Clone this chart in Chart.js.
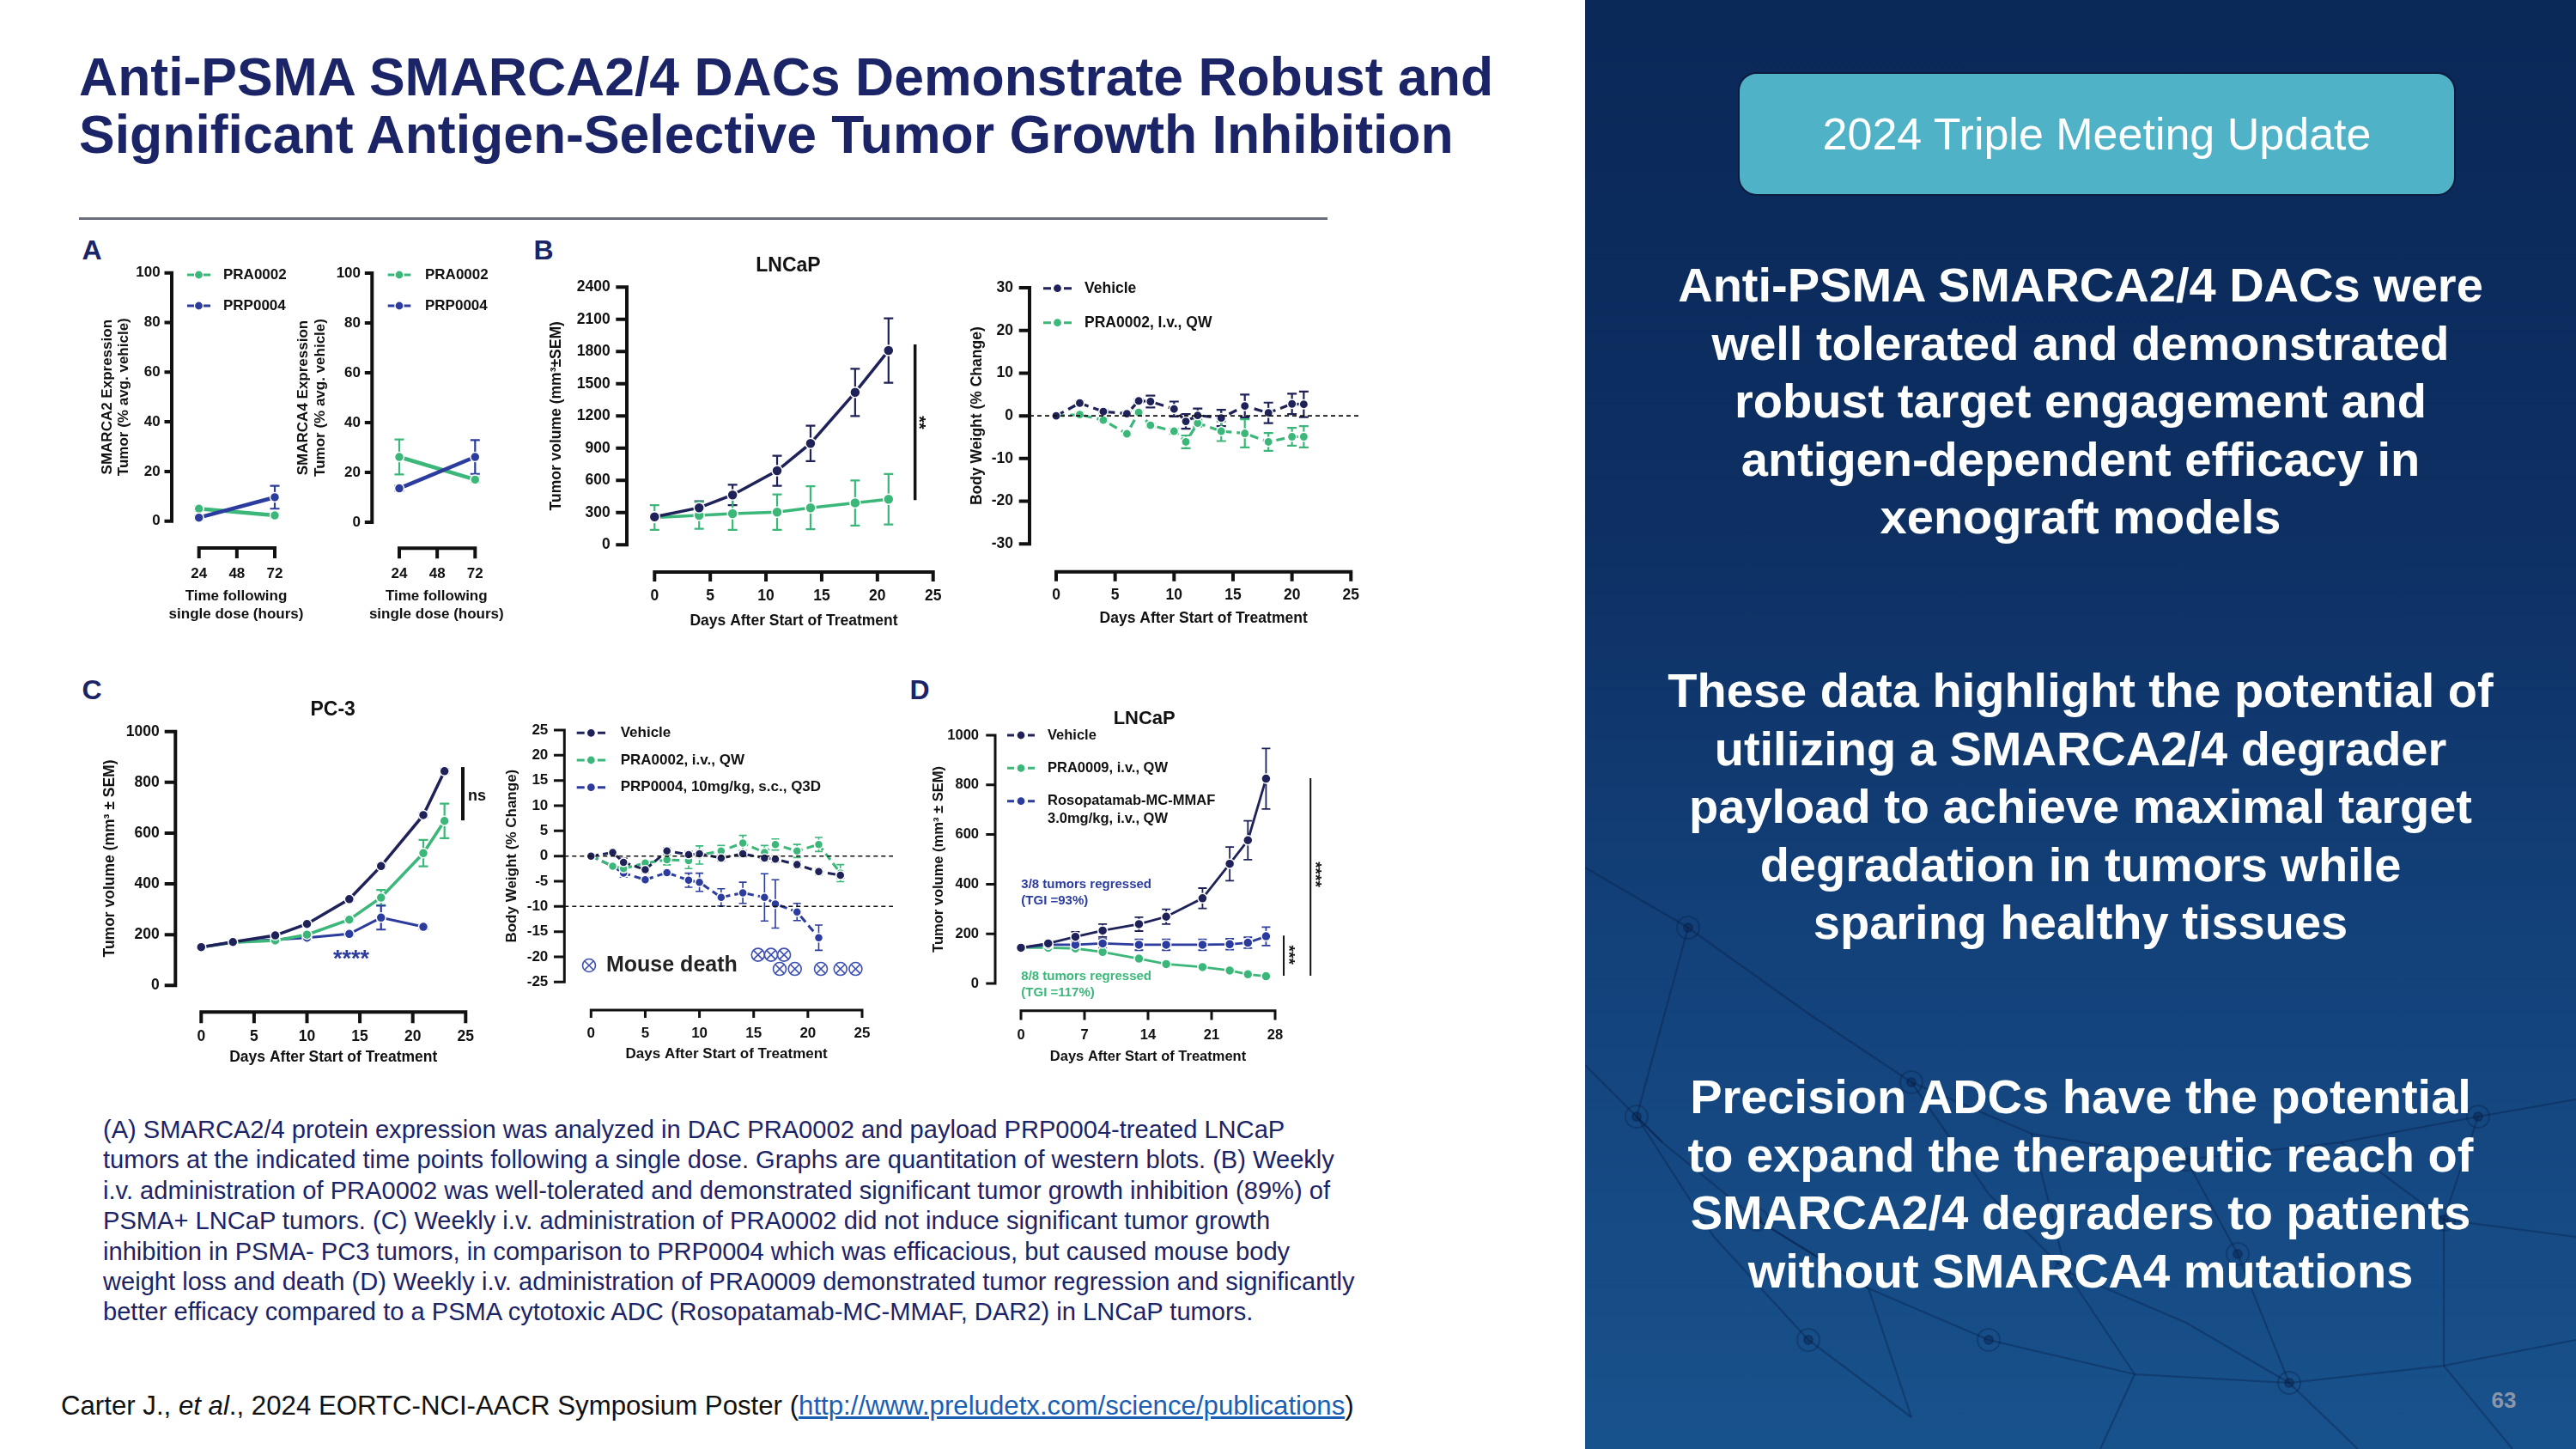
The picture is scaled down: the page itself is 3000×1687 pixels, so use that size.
<!DOCTYPE html>
<html><head><meta charset="utf-8"><title>Anti-PSMA SMARCA2/4 DACs</title>
<script src="https://cdn.jsdelivr.net/npm/chart.js@4.4.1/dist/chart.umd.min.js"></script>
<style>
html,body{margin:0;padding:0;background:#fff;overflow:hidden}
#stage{position:relative;width:3000px;height:1687px;overflow:hidden;background:#fff;font-family:"Liberation Sans",Arial,Helvetica,sans-serif}
.abs{position:absolute;white-space:nowrap}
.ctr{position:absolute;white-space:nowrap;transform:translate(-50%,-50%)}
canvas{position:absolute}
#title{left:92px;top:56px;font-size:62.5px;font-weight:bold;line-height:67px;color:#1b2466}
#rule{left:92px;top:253px;width:1454px;height:3px;background:#6a6d7c}
.plab{font-size:32px;font-weight:bold;color:#1b2466;line-height:1}
#caption{left:120px;top:1298px;font-size:29.1px;line-height:35.4px;color:#1b2466}
#cite{left:71px;top:1619px;font-size:31.2px;line-height:36px;color:#111}
#cite a{color:#1a5fb4;text-decoration:underline}
#side{left:1846px;top:0;width:1154px;height:1687px;background:linear-gradient(180deg,#0a2858 0%,#0d2f62 35%,#13417a 65%,#18528c 100%)}
#btn{left:2024px;top:84px;width:836px;height:144px;box-sizing:border-box;border:2px solid #0c1b3d;border-radius:22px;background:#4fb2c6;color:#fff;font-size:52px;line-height:140px;text-align:center}
.para{position:absolute;left:1846px;width:1154px;text-align:center;color:#fff;font-size:56px;font-weight:bold;line-height:67.5px}
#pg{left:2916px;top:1630px;font-size:26px;font-weight:bold;color:#8c96aa}
</style></head>
<body><div id="stage">
<div id="title" class="abs">Anti-PSMA SMARCA2/4 DACs Demonstrate Robust and<br>Significant Antigen-Selective Tumor Growth Inhibition</div>
<div id="rule" class="abs"></div>
<div class="ctr plab" style="left:107px;top:291px">A</div>
<div class="ctr plab" style="left:633px;top:291px">B</div>
<div class="ctr plab" style="left:107px;top:803px">C</div>
<div class="ctr plab" style="left:1071px;top:803px">D</div>
<div id="caption" class="abs">(A) SMARCA2/4 protein expression was analyzed in DAC PRA0002 and payload PRP0004-treated LNCaP<br>tumors at the indicated time points following a single dose. Graphs are quantitation of western blots. (B) Weekly<br>i.v. administration of PRA0002 was well-tolerated and demonstrated significant tumor growth inhibition (89%) of<br>PSMA+ LNCaP tumors. (C) Weekly i.v. administration of PRA0002 did not induce significant tumor growth<br>inhibition in PSMA- PC3 tumors, in comparison to PRP0004 which was efficacious, but caused mouse body<br>weight loss and death (D) Weekly i.v. administration of PRA0009 demonstrated tumor regression and significantly<br>better efficacy compared to a PSMA cytotoxic ADC (Rosopatamab-MC-MMAF, DAR2) in LNCaP tumors.</div>
<div id="cite" class="abs">Carter J., <i>et al</i>., 2024 EORTC-NCI-AACR Symposium Poster (<a>http://www.preludetx.com/science/publications</a>)</div>
<div id="side" class="abs">
<svg width="1154" height="1687" style="position:absolute;left:0;top:0" fill="none" stroke="rgba(6,26,64,0.35)" stroke-width="2.2">
<polyline points="0,1010 120,1080 260,1180 380,1260 520,1320 700,1350 880,1330 1040,1300 1154,1280"/>
<polyline points="0,1240 90,1330 200,1420 330,1500 470,1560 640,1600 820,1610 1000,1590 1154,1560"/>
<polyline points="60,1300 150,1440 260,1560 380,1650"/>
<polyline points="380,1260 470,1390 560,1480 700,1540 820,1610"/>
<polyline points="700,1350 760,1460 820,1610 900,1687"/>
<polyline points="1040,1300 1000,1420 1000,1590 1080,1687"/>
<polyline points="520,1320 560,1480 640,1600 600,1687"/>
<polyline points="120,1080 60,1300 90,1330"/>
<polyline points="200,1420 330,1500 380,1650"/>
<polyline points="880,1330 1000,1420 1154,1440"/>
<g fill="rgba(6,26,64,0.35)" stroke="rgba(6,26,64,0.35)">
<circle cx="120" cy="1080" r="5"/><circle cx="380" cy="1260" r="5"/><circle cx="700" cy="1350" r="5"/><circle cx="1040" cy="1300" r="5"/>
<circle cx="200" cy="1420" r="5"/><circle cx="470" cy="1560" r="5"/><circle cx="820" cy="1610" r="5"/><circle cx="1000" cy="1420" r="5"/>
<circle cx="560" cy="1480" r="5"/><circle cx="60" cy="1300" r="5"/><circle cx="260" cy="1560" r="5"/><circle cx="760" cy="1460" r="5"/>
</g>
<g fill="none" stroke="rgba(6,26,64,0.3)" stroke-width="2">
<circle cx="120" cy="1080" r="13"/><circle cx="380" cy="1260" r="13"/><circle cx="700" cy="1350" r="13"/><circle cx="1040" cy="1300" r="13"/>
<circle cx="200" cy="1420" r="13"/><circle cx="470" cy="1560" r="13"/><circle cx="820" cy="1610" r="13"/><circle cx="1000" cy="1420" r="13"/>
<circle cx="560" cy="1480" r="13"/><circle cx="60" cy="1300" r="13"/><circle cx="260" cy="1560" r="13"/><circle cx="760" cy="1460" r="13"/>
</g></svg>
</div>
<div id="btn" class="abs">2024 Triple Meeting Update</div>
<div class="para" style="top:298px">Anti-PSMA SMARCA2/4 DACs were<br>well tolerated and demonstrated<br>robust target engagement and<br>antigen-dependent efficacy in<br>xenograft models</div>
<div class="para" style="top:770px">These data highlight the potential of<br>utilizing a SMARCA2/4 degrader<br>payload to achieve maximal target<br>degradation in tumors while<br>sparing healthy tissues</div>
<div class="para" style="top:1243px">Precision ADCs have the potential<br>to expand the therapeutic reach of<br>SMARCA2/4 degraders to patients<br>without SMARCA4 mutations</div>
<div id="pg" class="ctr">63</div>
</div>
<script>
// ================= DATA =================
// Panel A: SMARCA2 / SMARCA4 expression (% avg. vehicle)
const timeA = [24, 72];
const smarca2_PRA0002 = [5.0, 2.3];
const smarca2_PRA0002_sem = [0.8, 0.8];
const smarca2_PRP0004 = [1.4, 9.6];
const smarca2_PRP0004_sem = [0.6, 4.6];
const smarca4_PRA0002 = [26.2, 17.1];
const smarca4_PRA0002_sem = [7.0, 1.0];
const smarca4_PRP0004 = [13.6, 26.2];
const smarca4_PRP0004_sem = [1.0, 6.8];
const ticksA_x = [24, 48, 72];
const ticksA_y = [0, 20, 40, 60, 80, 100];

// Panel B: LNCaP tumor volume
const daysLNCaP = [0, 4, 7, 11, 14, 18, 21];
const lncapVehicle = [260, 345, 465, 690, 945, 1420, 1810];
const lncapVehicle_sem = [20, 60, 95, 140, 165, 220, 300];
const lncapPRA0002 = [255, 275, 290, 305, 345, 390, 425];
const lncapPRA0002_sem = [115, 125, 150, 165, 200, 210, 235];
const ticksLNCaP_y = [0, 300, 600, 900, 1200, 1500, 1800, 2100, 2400];
const ticksDays25 = [0, 5, 10, 15, 20, 25];

// Panel B: body weight
const daysBW_B = [0, 2, 4, 6, 7, 8, 10, 11, 12, 14, 16, 18, 20, 21];
const bwB_Vehicle = [0, 3.0, 1.0, 0.5, 3.5, 3.35, 1.6, -1.3, 0.1, -0.5, 2.3, 0.7, 2.8, 2.7];
const bwB_Vehicle_sem = [0, 0.4, 0.4, 0.4, 0.4, 1.4, 1.75, 1.7, 1.6, 1.9, 2.7, 2.4, 2.4, 3.0];
const bwB_PRA0002 = [0, 0.3, -1.0, -4.2, 0.8, -2.2, -3.6, -6.1, -1.7, -3.6, -4.1, -6.1, -4.9, -4.9];
const bwB_PRA0002_sem = [0, 0.4, 0.4, 0.4, 0.4, 0.4, 0.6, 1.5, 0.8, 2.3, 3.3, 2.1, 2.1, 2.5];
const ticksBW_B_y = [-30, -20, -10, 0, 10, 20, 30];

// Panel C: PC-3 tumor volume
const daysPC3 = [0, 3, 7, 10, 14, 17, 21, 23];
const pc3Vehicle = [151, 171, 197, 242, 340, 470, 671, 844];
const pc3Vehicle_sem = [4, 4, 4, 5, 6, 8, 8, 8];
const pc3PRA0002 = [151, 169, 177, 200, 259, 346, 521, 648];
const pc3PRA0002_sem = [4, 4, 5, 8, 10, 30, 52, 68];
const daysPC3_PRP = [0, 3, 7, 10, 14, 17, 21];
const pc3PRP0004 = [151, 171, 180, 188, 203, 267, 231];
const pc3PRP0004_sem = [4, 4, 5, 8, 8, 47, 8];
const ticksPC3_y = [0, 200, 400, 600, 800, 1000];

// Panel C: body weight
const daysBW_C = [0, 2, 3, 5, 7, 9, 10, 12, 14, 16, 17, 19, 21, 23];
const bwC_Vehicle = [0, 0.7, -1.25, -2.7, 1.0, 0.3, 0.45, -0.4, 0.45, -0.4, -0.6, -1.7, -3.1, -3.8];
const bwC_Vehicle_sem = [0, 0.5, 0.8, 0.6, 0.6, 0.6, 0.6, 0.6, 0.6, 0.6, 0.6, 0.6, 0.6, 0.6];
const bwC_PRA0002 = [0, -2.0, -2.5, -1.4, -0.75, -0.9, 0.2, 1.0, 2.6, 0.7, 2.3, 1.0, 2.3, -3.4];
const bwC_PRA0002_sem = [0, 0.5, 1.2, 0.5, 1.0, 1.6, 1.8, 1.1, 1.5, 1.4, 1.1, 1.3, 1.4, 1.7];
const daysBW_C_PRP = [0, 2, 3, 5, 7, 9, 10, 12, 14, 16, 17, 19, 21];
const bwC_PRP0004 = [0, -2.0, -3.4, -4.7, -3.3, -4.8, -5.2, -8.2, -7.3, -8.2, -9.5, -11.1, -16.2];
const bwC_PRP0004_sem = [0, 0.5, 0.8, 0.5, 0.5, 1.4, 1.8, 1.7, 2.1, 4.7, 4.8, 1.7, 2.5];
const mouseDeathDays = [15.4, 16.6, 17.8, 17.4, 18.8, 21.2, 23.0, 24.4];
const mouseDeathRow = [-19.6, -19.6, -19.6, -22.4, -22.4, -22.4, -22.4, -22.4];
const ticksBW_C_y = [-25, -20, -15, -10, -5, 0, 5, 10, 15, 20, 25];

// Panel D: LNCaP tumor volume
const daysD = [0, 3, 6, 9, 13, 16, 20, 23, 25, 27];
const dVehicle = [144, 161, 188, 213, 239, 269, 343, 482, 577, 825];
const dVehicle_sem = [5, 8, 20, 26, 28, 30, 41, 68, 78, 122];
const dPRA0009 = [144, 144, 141, 127, 100, 78, 66, 52, 37, 29];
const dPRA0009_sem = [4, 4, 4, 4, 4, 4, 4, 4, 4, 4];
const dRosopatamab = [144, 156, 156, 161, 156, 156, 156, 158, 164, 190];
const dRosopatamab_sem = [5, 10, 12, 18, 22, 22, 22, 22, 22, 37];
const ticksD_x = [0, 7, 14, 21, 28];
const ticksD_y = [0, 200, 400, 600, 800, 1000];

// ================= STYLE =================
const FONT = '"Liberation Sans", Arial, Helvetica, sans-serif';
const C_VEH = '#1f2259', C_GRN = '#3cb77a', C_BLU = '#2c3c9e', C_DEATH = '#3d4fb0';

function series(label, xs, ys, sem, color, o) {
  return Object.assign({
    label, data: xs.map((x, i) => ({x, y: ys[i]})), sem,
    borderColor: color, backgroundColor: color,
    pointBackgroundColor: color, pointBorderColor: '#fff', pointBorderWidth: 1.5,
    pointRadius: 5.5, borderWidth: 3.5, tension: 0, clip: false, showLine: true, fill: false
  }, o || {});
}

function drawErrorBars(chart) {
  const ctx = chart.ctx, ys = chart.scales.y;
  chart.data.datasets.forEach((ds, i) => {
    if (!ds.sem) return;
    const meta = chart.getDatasetMeta(i);
    ctx.save();
    ctx.strokeStyle = ds.borderColor; ctx.lineWidth = ds.errWidth || 2.2; ctx.setLineDash([]);
    ds.data.forEach((p, j) => {
      const e = ds.sem[j]; if (!e) return;
      const x = meta.data[j].x;
      const yt = ys.getPixelForValue(p.y + e), yb = ys.getPixelForValue(p.y - e);
      const cw = ds.capW || 5.5;
      ctx.beginPath();
      ctx.moveTo(x, yt); ctx.lineTo(x, yb);
      ctx.moveTo(x - cw, yt); ctx.lineTo(x + cw, yt);
      ctx.moveTo(x - cw, yb); ctx.lineTo(x + cw, yb);
      ctx.stroke();
    });
    ctx.restore();
  });
}

function drawAxes(chart, g) {
  const ctx = chart.ctx, xs = chart.scales.x, ys = chart.scales.y;
  const ax = xs.getPixelForValue(g.xmin) - (g.x0px - g.axisX);
  const ay = ys.getPixelForValue(g.ymin) + (g.axisY - g.yBot);
  const w = g.axisW;
  ctx.save(); ctx.strokeStyle = '#111'; ctx.lineWidth = w; ctx.lineCap = 'butt'; ctx.setLineDash([]);
  ctx.beginPath();
  const yA = ys.getPixelForValue(g.yticks[g.yticks.length - 1]), yB = ys.getPixelForValue(g.yticks[0]);
  ctx.moveTo(ax, yA - w / 2); ctx.lineTo(ax, yB + w / 2);
  g.yticks.forEach(v => { const y = ys.getPixelForValue(v); ctx.moveTo(ax, y); ctx.lineTo(ax - g.tlY, y); });
  const xA = xs.getPixelForValue(g.xticks[0]), xB = xs.getPixelForValue(g.xticks[g.xticks.length - 1]);
  ctx.moveTo(xA - w / 2, ay); ctx.lineTo(xB + w / 2, ay);
  g.xticks.forEach(v => { const x = xs.getPixelForValue(v); ctx.moveTo(x, ay); ctx.lineTo(x, ay + g.tlX); });
  ctx.stroke();
  ctx.restore();
}

function helpers(chart, off, g) {
  const ctx = chart.ctx, xs = chart.scales.x, ys = chart.scales.y;
  const X = v => xs.getPixelForValue(v), Y = v => ys.getPixelForValue(v);
  const axisXc = X(g.xmin) - (g.x0px - g.axisX);
  const h = {
    X, Y, ctx,
    text(str, x, y, o) {
      o = o || {};
      ctx.save();
      ctx.font = (o.weight || 'bold') + ' ' + (o.size || 17) + 'px ' + FONT;
      ctx.fillStyle = o.color || '#111';
      ctx.textAlign = o.align || 'center';
      ctx.textBaseline = o.star ? 'alphabetic' : 'middle';
      ctx.translate(x - off.left, y - off.top);
      if (o.rot) ctx.rotate(o.rot);
      ctx.fillText(str, 0, o.star ? 0.58 * (o.size || 17) : 0);
      ctx.restore();
    },
    sig(xv, y1, y2, w) {
      ctx.save(); ctx.strokeStyle = '#111'; ctx.lineWidth = w; ctx.setLineDash([]);
      ctx.beginPath(); ctx.moveTo(X(xv), Y(y1)); ctx.lineTo(X(xv), Y(y2)); ctx.stroke(); ctx.restore();
    },
    hline(yv, xEndPage, lw) {
      ctx.save(); ctx.strokeStyle = '#111'; ctx.lineWidth = lw || 1.6; ctx.setLineDash([5, 4]);
      ctx.beginPath(); ctx.moveTo(axisXc, Y(yv)); ctx.lineTo(xEndPage - off.left, Y(yv)); ctx.stroke(); ctx.restore();
    },
    marker(style, x, y, r, color, lw) {
      ctx.save();
      ctx.strokeStyle = color; ctx.fillStyle = 'rgba(0,0,0,0)'; ctx.lineWidth = lw;
      Chart.helpers.drawPoint(ctx, {pointStyle: style, radius: r, borderWidth: lw}, x - off.left, y - off.top);
      ctx.restore();
    },
    legend(L) {
      L.items.forEach(it => {
        const y = it.y - off.top, x0 = L.x0 - off.left, x1 = L.x1 - off.left, xm = (x0 + x1) / 2;
        ctx.save();
        ctx.strokeStyle = it.color; ctx.lineWidth = L.lw || 3; ctx.setLineDash([]);
        ctx.beginPath(); ctx.moveTo(x0, y); ctx.lineTo(x0 + L.dash, y); ctx.moveTo(x1 - L.dash, y); ctx.lineTo(x1, y); ctx.stroke();
        ctx.beginPath(); ctx.arc(xm, y, L.r, 0, Math.PI * 2); ctx.fillStyle = it.color; ctx.fill();
        ctx.lineWidth = 1.2; ctx.strokeStyle = '#fff'; ctx.stroke();
        ctx.restore();
        const lines = Array.isArray(it.text) ? it.text : [it.text];
        lines.forEach((t, k) => h.text(t, L.textX, it.y + k * (L.lineGap || 20), {size: L.size, align: 'left', weight: L.weight}));
      });
    }
  };
  return h;
}

function panel(g) {
  const lhY = g.yTitleLH, lhX = g.xTitleLH, lhTick = g.tickSize * 1.2;
  const yPad = g.x0px - g.yLabelRight;
  const xPad = g.xLabelY - g.yBot - lhTick / 2;
  // Chart.js reserves tick padding + half a label at the far ends of each scale
  const PT = Math.max(g.PT, yPad + lhTick / 2 + 4);
  const PR = Math.max(g.PR, xPad + g.tickSize * 1.3 + 4);
  const left = Math.round(g.yTitleX - lhY / 2);
  const top = Math.round(g.yTop - PT);
  const right = Math.round(g.x1px + PR);
  const bottom = Math.round(g.xTitleY + lhX / 2 + 2);
  const W = right - left, H = bottom - top;
  const YW = g.x0px - left, XH = bottom - g.yBot;
  const padTop = g.yTop - top, padRight = right - g.x1px;
  const cv = document.createElement('canvas');
  cv.width = W; cv.height = H;
  cv.style.left = left + 'px'; cv.style.top = top + 'px';
  cv.style.width = W + 'px'; cv.style.height = H + 'px';
  document.getElementById('stage').appendChild(cv);
  const tickFont = {family: FONT, size: g.tickSize, weight: 'bold', lineHeight: 1.2};
  const off = {left, top};
  new Chart(cv, {
    type: 'line',
    data: {datasets: g.datasets},
    options: {
      responsive: false, maintainAspectRatio: false, animation: false, devicePixelRatio: 1,
      layout: {padding: {top: padTop, right: padRight, left: 0, bottom: 0}},
      plugins: {legend: {display: false}, tooltip: {enabled: false}, title: {display: false}},
      scales: {
        x: {
          type: 'linear', position: 'bottom', min: g.xmin, max: g.xmax,
          afterBuildTicks: s => { s.ticks = g.xticks.map(v => ({value: v})); },
          afterFit: s => { s.height = XH; },
          grid: {display: false, drawTicks: false}, border: {display: false},
          ticks: {padding: xPad, font: tickFont, color: '#111', maxRotation: 0, minRotation: 0, autoSkip: false, callback: v => String(v)},
          title: {display: !g.xTitleManual, text: g.xTitle, color: '#111', padding: {top: 0, bottom: 2}, font: {family: FONT, size: g.titleSize, weight: 'bold', lineHeight: lhX / g.titleSize}}
        },
        y: {
          type: 'linear', position: 'left', min: g.ymin, max: g.ymax,
          afterBuildTicks: s => { s.ticks = g.yticks.map(v => ({value: v})); },
          afterFit: s => { s.width = YW; },
          grid: {display: false, drawTicks: false}, border: {display: false},
          ticks: {padding: yPad, font: tickFont, color: '#111', autoSkip: false, callback: v => String(v)},
          title: {display: true, text: g.yTitle, color: '#111', padding: {top: 0, bottom: 0}, font: {family: FONT, size: g.titleSize, weight: 'bold', lineHeight: lhY / g.titleSize}}
        }
      }
    },
    plugins: [{
      id: 'deco' + g.id,
      beforeDatasetsDraw(chart) { drawErrorBars(chart); },
      afterDatasetsDraw(chart) {
        drawAxes(chart, g);
        const h = helpers(chart, off, g);
        if (g.xTitleManual) g.xTitle.forEach((t, k) => h.text(t, g.xTitleCX, g.xTitleY - (g.xTitle.length - 1 - k) * lhX, {size: g.titleSize}));
        if (g.extra) g.extra(h);
      }
    }]
  });
}

// ---------- Panel A (SMARCA2) ----------
panel({
  id: 'A1', xmin: 24, xmax: 72, ymin: 0, ymax: 100, xticks: ticksA_x, yticks: ticksA_y,
  x0px: 231.7, x1px: 320, yTop: 317.7, yBot: 606.7, axisX: 200, axisY: 638,
  yTitleX: 125, yTitleLH: 18.7, xTitleY: 715, xTitleLH: 21, PT: 20, PR: 30,
  tickSize: 17, titleSize: 17, yLabelRight: 186.7, xLabelY: 668, tlY: 8.5, tlX: 12, axisW: 4,
  yTitle: ['SMARCA2 Expression', 'Tumor (% avg. vehicle)'], xTitle: ['Time following', 'single dose (hours)'],
  xTitleManual: true, xTitleCX: 275,
  datasets: [
    series('PRP0004', timeA, smarca2_PRP0004, smarca2_PRP0004_sem, C_BLU, {borderWidth: 4.5}),
    series('PRA0002', timeA, smarca2_PRA0002, smarca2_PRA0002_sem, C_GRN, {borderWidth: 4.5})
  ],
  extra: h => h.legend({x0: 218, x1: 245, dash: 8, r: 5, textX: 260, size: 17,
    items: [{y: 320, text: 'PRA0002', color: C_GRN}, {y: 356, text: 'PRP0004', color: C_BLU}]})
});

// ---------- Panel A (SMARCA4) ----------
panel({
  id: 'A2', xmin: 24, xmax: 72, ymin: 0, ymax: 100, xticks: ticksA_x, yticks: ticksA_y,
  x0px: 465, x1px: 553.3, yTop: 318, yBot: 608, axisX: 433.3, axisY: 638.3,
  yTitleX: 353.3, yTitleLH: 19.5, xTitleY: 715, xTitleLH: 21, PT: 20, PR: 30,
  tickSize: 17, titleSize: 17, yLabelRight: 420, xLabelY: 668, tlY: 8.5, tlX: 12, axisW: 4,
  yTitle: ['SMARCA4 Expression', 'Tumor (% avg. vehicle)'], xTitle: ['Time following', 'single dose (hours)'],
  xTitleManual: true, xTitleCX: 508.3,
  datasets: [
    series('PRP0004', timeA, smarca4_PRP0004, smarca4_PRP0004_sem, C_BLU, {borderWidth: 4.5}),
    series('PRA0002', timeA, smarca4_PRA0002, smarca4_PRA0002_sem, C_GRN, {borderWidth: 4.5})
  ],
  extra: h => h.legend({x0: 451.7, x1: 478.3, dash: 8, r: 5, textX: 495, size: 17,
    items: [{y: 320, text: 'PRA0002', color: C_GRN}, {y: 356, text: 'PRP0004', color: C_BLU}]})
});

// ---------- Panel B (LNCaP tumor volume) ----------
panel({
  id: 'B1', xmin: 0, xmax: 25, ymin: 0, ymax: 2400, xticks: ticksDays25, yticks: ticksLNCaP_y,
  x0px: 762.3, x1px: 1086.7, yTop: 334.3, yBot: 634.3, axisX: 730, axisY: 666,
  yTitleX: 648, yTitleLH: 21, xTitleY: 723, xTitleLH: 21, PT: 45, PR: 20,
  tickSize: 17.5, titleSize: 17.5, yLabelRight: 710.7, xLabelY: 694, tlY: 12.7, tlX: 11, axisW: 4,
  yTitle: 'Tumor volume (mm³±SEM)', xTitle: 'Days After Start of Treatment',
  datasets: [
    series('Vehicle', daysLNCaP, lncapVehicle, lncapVehicle_sem, C_VEH, {pointRadius: 6}),
    series('PRA0002', daysLNCaP, lncapPRA0002, lncapPRA0002_sem, C_GRN, {pointRadius: 6})
  ],
  extra: h => {
    h.text('LNCaP', 918, 310, {size: 23});
    h.sig(23.38, 416, 1867, 3.5);
    h.text('**', 1076, 492, {size: 20, rot: Math.PI / 2, star: true});
  }
});

// ---------- Panel B (body weight) ----------
panel({
  id: 'B2', xmin: 0, xmax: 25, ymin: -30, ymax: 30, xticks: ticksDays25, yticks: ticksBW_B_y,
  x0px: 1230, x1px: 1573.3, yTop: 335, yBot: 633.3, axisX: 1199, axisY: 665.7,
  yTitleX: 1138.3, yTitleLH: 21, xTitleY: 720.7, xTitleLH: 21, PT: 20, PR: 20,
  tickSize: 17.5, titleSize: 17.5, yLabelRight: 1180, xLabelY: 693.3, tlY: 12.3, tlX: 11, axisW: 4,
  yTitle: 'Body Weight (% Change)', xTitle: 'Days After Start of Treatment',
  datasets: [
    series('Vehicle', daysBW_B, bwB_Vehicle, bwB_Vehicle_sem, C_VEH, {pointRadius: 5.2, borderWidth: 3.2, borderDash: [10, 6]}),
    series('PRA0002, I.v., QW', daysBW_B, bwB_PRA0002, bwB_PRA0002_sem, C_GRN, {pointRadius: 5.2, borderWidth: 3.2, borderDash: [10, 6]})
  ],
  extra: h => {
    h.hline(0, 1585, 1.6);
    h.legend({x0: 1215, x1: 1248, dash: 9, r: 5, textX: 1263, size: 17.5,
      items: [{y: 335.7, text: 'Vehicle', color: C_VEH}, {y: 375.7, text: 'PRA0002, I.v., QW', color: C_GRN}]});
  }
});

// ---------- Panel C (PC-3 tumor volume) ----------
panel({
  id: 'C1', xmin: 0, xmax: 25, ymin: 0, ymax: 1000, xticks: ticksDays25, yticks: ticksPC3_y,
  x0px: 234.3, x1px: 542.3, yTop: 851.7, yBot: 1147.3, axisX: 204.3, axisY: 1178.3,
  yTitleX: 128, yTitleLH: 21, xTitleY: 1231.7, xTitleLH: 21, PT: 45, PR: 30,
  tickSize: 17.5, titleSize: 17.5, yLabelRight: 185.7, xLabelY: 1206.7, tlY: 12.6, tlX: 13, axisW: 4,
  yTitle: 'Tumor volume (mm³ ± SEM)', xTitle: 'Days After Start of Treatment',
  datasets: [
    series('Vehicle', daysPC3, pc3Vehicle, pc3Vehicle_sem, C_VEH),
    series('PRA0002', daysPC3, pc3PRA0002, pc3PRA0002_sem, C_GRN),
    series('PRP0004', daysPC3_PRP, pc3PRP0004, pc3PRP0004_sem, C_BLU, {borderWidth: 3})
  ],
  extra: h => {
    h.text('PC-3', 387.7, 826.7, {size: 23});
    h.sig(24.73, 650, 860, 4);
    h.text('ns', 545, 926.7, {size: 18, align: 'left'});
    h.text('****', 409, 1109, {size: 27, color: C_BLU, star: true});
  }
});

// ---------- Panel C (body weight) ----------
panel({
  id: 'C2', xmin: 0, xmax: 25, ymin: -25, ymax: 25, xticks: ticksDays25, yticks: ticksBW_C_y,
  x0px: 688.3, x1px: 1004, yTop: 850, yBot: 1143.3, axisX: 657.3, axisY: 1176,
  yTitleX: 596.7, yTitleLH: 21, xTitleY: 1227.3, xTitleLH: 21, PT: 20, PR: 40,
  tickSize: 17, titleSize: 17, yLabelRight: 638.3, xLabelY: 1203.3, tlY: 12.3, tlX: 9, axisW: 3,
  yTitle: 'Body Weight (% Change)', xTitle: 'Days After Start of Treatment',
  datasets: [
    series('Vehicle', daysBW_C, bwC_Vehicle, bwC_Vehicle_sem, C_VEH, {pointRadius: 5, borderWidth: 3, borderDash: [9, 5], errWidth: 1.6, capW: 4.5}),
    series('PRA0002, i.v., QW', daysBW_C, bwC_PRA0002, bwC_PRA0002_sem, C_GRN, {pointRadius: 5, borderWidth: 3, borderDash: [9, 5], errWidth: 1.6, capW: 4.5}),
    series('PRP0004, 10mg/kg, s.c., Q3D', daysBW_C_PRP, bwC_PRP0004, bwC_PRP0004_sem, C_BLU, {pointRadius: 5, borderWidth: 3, borderDash: [9, 5], errWidth: 1.6, capW: 4.5}),
    {label: 'Mouse death', data: mouseDeathDays.map((x, i) => ({x, y: mouseDeathRow[i]})), showLine: false, clip: false,
     pointStyle: 'circle', pointRadius: 7.5, pointBackgroundColor: 'rgba(0,0,0,0)', pointBorderColor: C_DEATH, pointBorderWidth: 1.6, borderColor: C_DEATH},
    {label: 'Mouse death x', data: mouseDeathDays.map((x, i) => ({x, y: mouseDeathRow[i]})), showLine: false, clip: false,
     pointStyle: 'crossRot', pointRadius: 7.5, pointBorderColor: C_DEATH, pointBorderWidth: 1.6, borderColor: C_DEATH}
  ],
  extra: h => {
    h.hline(0, 1040, 1.5);
    h.hline(-10, 1040, 1.5);
    h.legend({x0: 671.7, x1: 705, dash: 9, r: 5, textX: 722.7, size: 17,
      items: [{y: 853.3, text: 'Vehicle', color: C_VEH}, {y: 885, text: 'PRA0002, i.v., QW', color: C_GRN},
              {y: 916.7, text: 'PRP0004, 10mg/kg, s.c., Q3D', color: C_BLU}]});
    h.marker('circle', 686, 1124, 7.5, C_DEATH, 1.6);
    h.marker('crossRot', 686, 1124, 7.5, C_DEATH, 1.6);
    h.text('Mouse death', 706, 1124, {size: 25, align: 'left', color: '#222'});
  }
});

// ---------- Panel D (LNCaP, PRA0009) ----------
panel({
  id: 'D', xmin: 0, xmax: 28, ymin: 0, ymax: 1000, xticks: ticksD_x, yticks: ticksD_y,
  x0px: 1189, x1px: 1485, yTop: 856, yBot: 1145, axisX: 1159, axisY: 1176.7,
  yTitleX: 1093.3, yTitleLH: 20, xTitleY: 1230, xTitleLH: 20, PT: 40, PR: 65,
  tickSize: 16.5, titleSize: 16.5, yLabelRight: 1140, xLabelY: 1205, tlY: 10.7, tlX: 10.7, axisW: 3,
  yTitle: 'Tumor volume (mm³ ± SEM)', xTitle: 'Days After Start of Treatment',
  datasets: [
    series('Vehicle', daysD, dVehicle, dVehicle_sem, C_VEH, {borderWidth: 2.8, errWidth: 1.8, capW: 5}),
    series('Rosopatamab-MC-MMAF 3.0mg/kg, i.v., QW', daysD, dRosopatamab, dRosopatamab_sem, C_BLU, {borderWidth: 2.8, errWidth: 1.8, capW: 5}),
    series('PRA0009, i.v., QW', daysD, dPRA0009, dPRA0009_sem, C_GRN, {borderWidth: 2.8, errWidth: 1.8, capW: 5})
  ],
  extra: h => {
    h.text('LNCaP', 1332.7, 836.7, {size: 22});
    h.legend({x0: 1173, x1: 1205, dash: 8, r: 5, textX: 1220, size: 16.5, lineGap: 20.6,
      items: [{y: 856, text: 'Vehicle', color: C_VEH}, {y: 894.3, text: 'PRA0009, i.v., QW', color: C_GRN},
              {y: 932.7, text: ['Rosopatamab-MC-MMAF', '3.0mg/kg, i.v., QW'], color: C_BLU}]});
    h.text('3/8 tumors regressed', 1189.3, 1030, {size: 15, align: 'left', color: C_BLU});
    h.text('(TGI =93%)', 1189.3, 1049.3, {size: 15, align: 'left', color: C_BLU});
    h.text('8/8 tumors regressed', 1189.3, 1136.7, {size: 15, align: 'left', color: C_GRN});
    h.text('(TGI =117%)', 1189.3, 1156, {size: 15, align: 'left', color: C_GRN});
    h.sig(31.9, 31, 827, 2);
    h.sig(28.95, 31, 193, 2);
    h.text('****', 1537, 1018, {size: 19, rot: Math.PI / 2, star: true});
    h.text('***', 1506, 1111.7, {size: 19, rot: Math.PI / 2, star: true});
  }
});
</script>
</body></html>
